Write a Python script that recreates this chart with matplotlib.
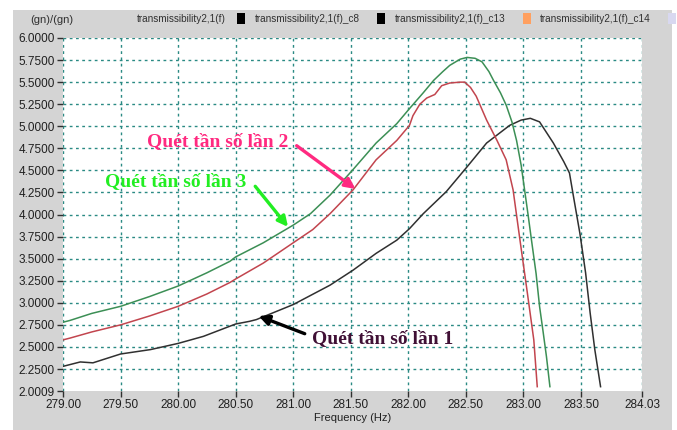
import numpy as np
import matplotlib
matplotlib.use("Agg")
import matplotlib.pyplot as plt
from matplotlib.patches import Rectangle

# Sweep 1 (black), sweep 2 (red), sweep 3 (green): transmissibility vs frequency
freq_sweep1 = [279.00, 279.06, 279.15, 279.26, 279.50, 279.76, 280.00, 280.22, 280.50, 280.62,
               280.68, 281.00, 281.32, 281.52, 281.72, 281.90, 282.01, 282.13, 282.33, 282.51,
               282.68, 282.88, 282.98, 283.06, 283.14, 283.26, 283.35, 283.40, 283.43, 283.49,
               283.54, 283.58, 283.62, 283.67]
trans_sweep1 = [2.28, 2.30, 2.33, 2.32, 2.42, 2.47, 2.54, 2.62, 2.76, 2.79,
                2.81, 2.98, 3.20, 3.37, 3.56, 3.71, 3.84, 4.01, 4.26, 4.54,
                4.81, 5.01, 5.07, 5.09, 5.05, 4.81, 4.60, 4.47, 4.24, 3.79,
                3.34, 2.88, 2.47, 2.05]

freq_sweep2 = [279.00, 279.06, 279.25, 279.50, 279.75, 280.00, 280.25, 280.45, 280.50, 280.74,
               281.00, 281.17, 281.32, 281.52, 281.72, 281.90, 282.01, 282.04, 282.10, 282.16,
               282.23, 282.29, 282.36, 282.45, 282.49, 282.54, 282.59, 282.68, 282.77, 282.85,
               282.91, 282.97, 283.03, 283.09, 283.12]
trans_sweep2 = [2.58, 2.60, 2.67, 2.75, 2.85, 2.96, 3.10, 3.23, 3.27, 3.45,
                3.68, 3.83, 4.01, 4.28, 4.62, 4.84, 5.01, 5.12, 5.25, 5.32,
                5.36, 5.46, 5.49, 5.50, 5.50, 5.44, 5.34, 5.07, 4.84, 4.62,
                4.28, 3.71, 3.15, 2.58, 2.05]

freq_sweep3 = [279.00, 279.06, 279.25, 279.50, 279.75, 280.00, 280.25, 280.45, 280.50, 280.74,
               281.00, 281.15, 281.32, 281.52, 281.72, 281.90, 282.01, 282.13, 282.22, 282.30,
               282.36, 282.45, 282.51, 282.58, 282.64, 282.70, 282.74, 282.80, 282.85, 282.90,
               282.94, 282.98, 283.01, 283.04, 283.07, 283.11, 283.14, 283.17, 283.20, 283.23]
trans_sweep3 = [2.78, 2.80, 2.88, 2.96, 3.07, 3.19, 3.34, 3.47, 3.52, 3.68,
                3.88, 4.01, 4.22, 4.51, 4.81, 5.03, 5.20, 5.38, 5.52, 5.62,
                5.69, 5.76, 5.78, 5.77, 5.73, 5.62, 5.52, 5.38, 5.24, 5.05,
                4.84, 4.56, 4.28, 4.00, 3.71, 3.33, 2.96, 2.68, 2.39, 2.05]

x_ticks = [279.00, 279.50, 280.00, 280.50, 281.00, 281.50, 282.00, 282.50, 283.00, 283.50, 284.03]
y_ticks = [2.0009, 2.25, 2.50, 2.75, 3.00, 3.25, 3.50, 3.75, 4.00, 4.25, 4.50, 4.75,
           5.00, 5.25, 5.50, 5.75, 6.00]

legend_names = ["transmissibility2,1(f)", "transmissibility2,1(f)_c8",
                "transmissibility2,1(f)_c13", "transmissibility2,1(f)_c14"]
legend_colors = ["#000000", "#000000", "#ffa060", "#d8d8f0"]

sweep_labels = ["Quét tần số lần 1", "Quét tần số lần 2", "Quét tần số lần 3"]

W, H = 677, 430
fig = plt.figure(figsize=(W / 100, H / 100), dpi=100, facecolor="white")

def px(x, y):
    return x / W, 1 - y / H

# grey panel behind the chart
x0, y0 = px(13, 430)
fig.add_artist(Rectangle((x0, y0), (672 - 13) / W, (430 - 10) / H,
                         transform=fig.transFigure, facecolor="#d4d4d4",
                         edgecolor="none", zorder=0))

left, right, top, bottom = 63, 642, 38, 391
ax = fig.add_axes([left / W, 1 - bottom / H, (right - left) / W, (bottom - top) / H])
ax.set_facecolor("white")
ax.set_zorder(1)

grid_kw = dict(color="#2a8a84", lw=1.0, ls=(0, (2, 2.5)), zorder=1)
for yv in y_ticks[1:]:
    ax.axhline(yv, **grid_kw)
for xv in x_ticks:
    ax.axvline(xv, **grid_kw)

ax.plot(freq_sweep1, trans_sweep1, color="#303030", lw=1.1, zorder=3)
ax.plot(freq_sweep2, trans_sweep2, color="#c2454e", lw=1.1, zorder=3)
ax.plot(freq_sweep3, trans_sweep3, color="#3c8f55", lw=1.1, zorder=3)

ax.set_xlim(279.0, 284.03)
ax.set_ylim(2.0009, 6.0)
for s in ax.spines.values():
    s.set_visible(False)

tick_font = ["Liberation Sans Narrow", "Liberation Sans"]
ax.set_xticks(x_ticks)
ax.set_xticklabels([f"{v:.2f}" for v in x_ticks], family=tick_font, fontsize=8.5, color="#202020")
ax.set_yticks(y_ticks)
ax.set_yticklabels([f"{v:.4f}" for v in y_ticks], family=tick_font, fontsize=8.5, color="#202020")
ax.tick_params(axis="both", direction="out", length=4, width=1, color="#303030", pad=2)
ax.set_xlabel("Frequency (Hz)", family=tick_font, fontsize=8, color="#202020", labelpad=1)

# annotations
serif = ["Liberation Serif", "DejaVu Serif"]
ann = [
    (sweep_labels[1], "#ff2a80", (280.34, 4.83), (281.03, 4.78), (281.54, 4.29)),
    (sweep_labels[2], "#22ee22", (279.98, 4.37), (280.67, 4.32), (280.955, 3.86)),
    (sweep_labels[0], "#401035", (281.78, 2.60), (281.10, 2.65), (280.70, 2.85)),
]
arrow_colors = ["#ff2a80", "#22ee22", "#000000"]
for (txt, col, tpos, start, tip), acol in zip(ann, arrow_colors):
    ax.text(tpos[0], tpos[1], txt, color=col, family=serif, fontsize=14,
            fontweight="bold", ha="center", va="center", zorder=5)
    ax.annotate("", xy=tip, xytext=start,
                arrowprops=dict(arrowstyle="-|>", color=acol, lw=2.4,
                                mutation_scale=15, shrinkA=0, shrinkB=0),
                zorder=5)

# header row
fig.text(*px(30, 20), "(gn)/(gn)", family=tick_font, fontsize=8, color="#303030",
         ha="left", va="center")
name_x = [137, 255, 395, 540]
swatch_x = [237, 377, 523, 668]
for name, nx, sx, c in zip(legend_names, name_x, swatch_x, legend_colors):
    fig.text(*px(nx, 19), name, family=tick_font, fontsize=7.2, color="#303030",
             ha="left", va="center")
    sx0, sy0 = px(sx, 24)
    fig.add_artist(Rectangle((sx0, sy0), 8 / W, 11 / H, transform=fig.transFigure,
                             facecolor=c, edgecolor="none"))

fig.savefig("out.png", dpi=100, facecolor="white")
